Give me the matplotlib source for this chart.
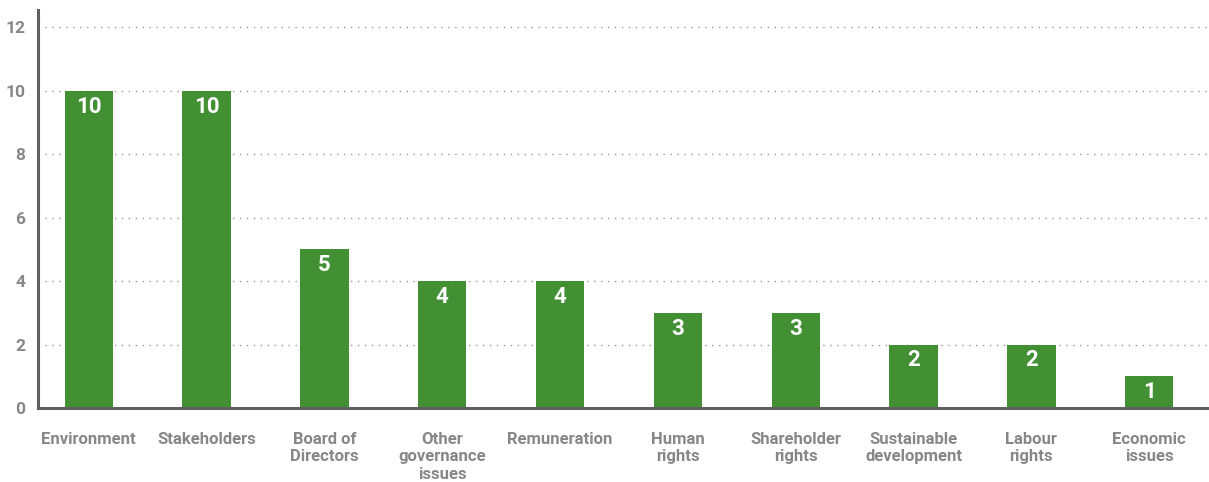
import matplotlib
matplotlib.use("Agg")
import matplotlib.pyplot as plt

categories = ["Environment", "Stakeholders", "Board of\nDirectors", "Other\ngovernance\nissues",
              "Remuneration", "Human\nrights", "Shareholder\nrights", "Sustainable\ndevelopment",
              "Labour\nrights", "Economic\nissues"]
values = [10, 10, 5, 4, 4, 3, 3, 2, 2, 1]
yticks = [0, 2, 4, 6, 8, 10, 12]

family = ["Roboto", "Liberation Sans", "DejaVu Sans"]

green = "#428f34"
gray_text = "#878787"
axis_col = "#606060"

fig = plt.figure(figsize=(12.09, 4.82), dpi=100)
ax = fig.add_axes([38 / 1209, 74 / 482, (1207 - 38) / 1209, (408 - 10) / 482])

x = list(range(len(categories)))
ax.bar(x, values, width=0.41, color=green, zorder=3)
for xi, v in zip(x, values):
    ax.text(xi, v - 0.15, str(v), ha="center", va="top", color="white",
            fontsize=16, fontweight="bold", family=family, zorder=4)

ax.set_xlim(-0.43, 9.49)
ax.set_ylim(0, 12.55)
ax.set_yticks(yticks)
ax.set_yticklabels([str(t) for t in yticks], fontsize=12.5, fontweight="bold",
                   color=gray_text, family=family)
ax.set_xticks(x)
ax.set_xticklabels(categories, fontsize=12, fontweight="bold", color=gray_text,
                   family=family, linespacing=1.22)
ax.tick_params(axis="y", length=0, pad=9)
ax.tick_params(axis="x", length=0, pad=17)

ax.yaxis.grid(True, linestyle=(0, (1, 4)), color="#999999", linewidth=1, zorder=0)
for s in ["top", "right"]:
    ax.spines[s].set_visible(False)
for s in ["left", "bottom"]:
    ax.spines[s].set_color(axis_col)
    ax.spines[s].set_linewidth(2.2)
ax.spines["bottom"].set_zorder(5)

fig.savefig("out.png", dpi=100)
